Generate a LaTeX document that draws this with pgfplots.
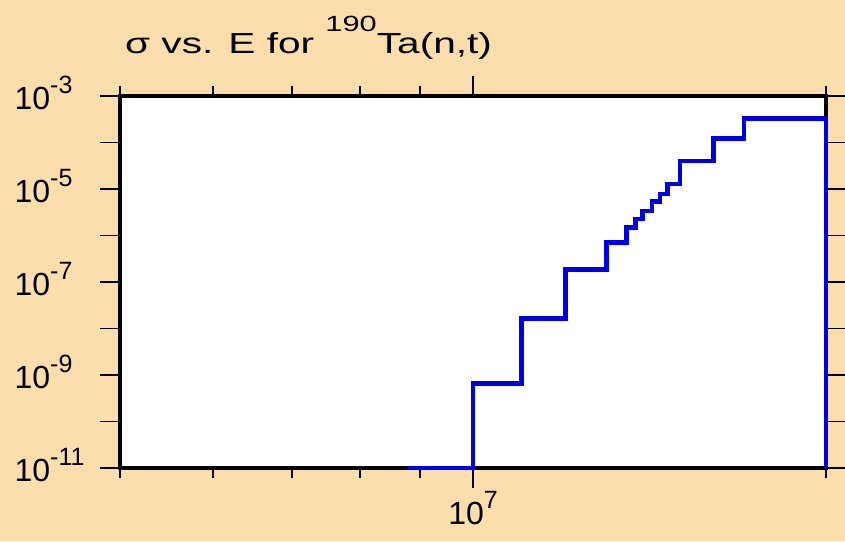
\documentclass[border=0pt]{standalone}
\usepackage{fontspec}
\setmainfont{Liberation Sans}
\usepackage{pgfplots}
\pgfplotsset{compat=1.18}
\definecolor{peach}{RGB}{252,222,172}
\definecolor{lineblue}{RGB}{0,0,230}
\newcommand\supK[1]{\raisebox{16pt}{\fontsize{25}{25}\selectfont #1}}
\newcommand\supT[1]{\raisebox{22pt}{\fontsize{22}{22}\selectfont #1}}
\begin{document}
\begin{tikzpicture}
\fill[peach] (0,0) rectangle (845pt,541pt);
\begin{axis}[
  at={(120pt,73pt)}, anchor=south west,
  scale only axis, width=706pt, height=372pt,
  xmode=log, ymode=log,
  xmin=1e6, xmax=1e8, ymin=1e-11, ymax=1e-3,
  axis background/.style={fill=white},
  axis line style={line width=4.5pt, black},
  tick align=outside,
  major tick length=20pt, minor tick length=10pt,
  every tick/.style={black, line width=1.8pt},
  xtick={1e7}, xticklabels={10\supK{7}},
  minor xtick={1e6,1.834e6,3.07e6,4.79e6,7.08e6,1e8},
  ytick={1e-11,1e-10,1e-9,1e-8,1e-7,1e-6,1e-5,1e-4,1e-3},
  yticklabels={10\supK{-11},,10\supK{-9},,10\supK{-7},,10\supK{-5},,10\supK{-3}},
  yminorticks=false,
  tick label style={font=\fontsize{32}{36}\selectfont},
  yticklabel style={anchor=base west, xshift=-89pt, yshift=-13pt},
  xticklabel style={anchor=north, yshift=0pt},
  clip=false,
]
\addplot[const plot mark left, lineblue, line width=4.5pt, line join=miter] coordinates {
(6.55e6,1e-11)
(1e7,6.6e-10)
(1.374e7,1.65e-8)
(1.83e7,1.87e-7)
(2.39e7,7.1e-7)
(2.72e7,1.5e-6)
(2.89e7,2.24e-6)
(3.02e7,3.4e-6)
(3.21e7,5.4e-6)
(3.39e7,7.8e-6)
(3.56e7,1.29e-5)
(3.86e7,4.0e-5)
(4.80e7,1.23e-4)
(5.86e7,3.3e-4)
(1e8,3.3e-4)
(1e8,1e-11)
};
\end{axis}
\node[anchor=base west, font=\fontsize{29}{34}\selectfont, inner sep=0pt] at (125pt,487.7pt) {\scalebox{1.4}[1]{σ vs. E for \supT{190}Ta(n,t)}};
\pgfresetboundingbox
\useasboundingbox (0,0) rectangle (845pt,541pt);
\end{tikzpicture}
\end{document}
